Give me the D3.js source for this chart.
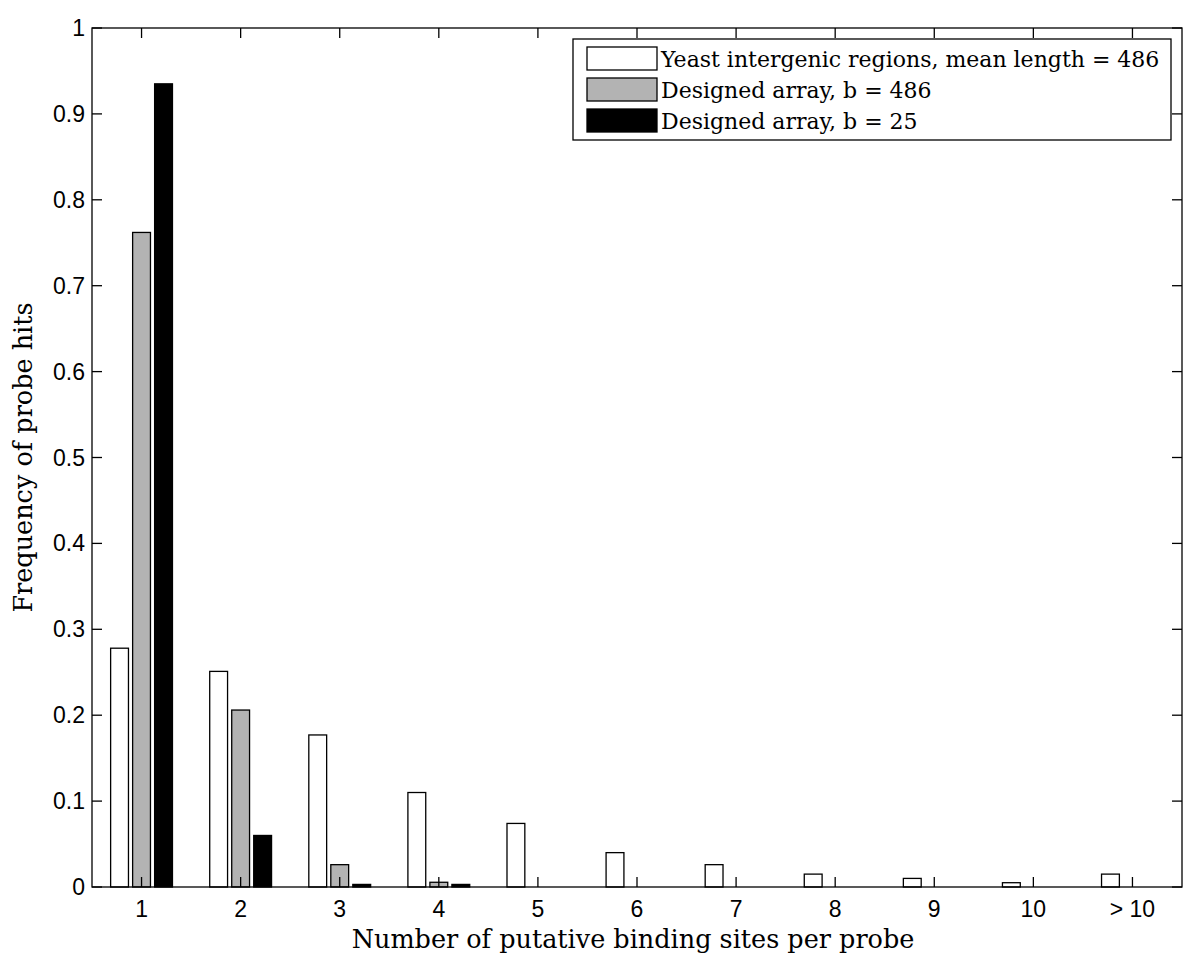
<!DOCTYPE html>
<html>
<head>
<meta charset="utf-8">
<script src="https://cdn.jsdelivr.net/npm/d3@7"></script>
<style>
  body { margin: 0; background: #fff; }
  svg text.tick { font-family: "Liberation Sans", Arial, sans-serif; font-size: 23px; }
  svg text.serif { font-family: "DejaVu Serif", "Liberation Serif", serif; }
</style>
</head>
<body>
<div id="chart"></div>
<script>
var categories = ['1', '2', '3', '4', '5', '6', '7', '8', '9', '10', '> 10'];
var seriesNames = ['Yeast intergenic regions, mean length = 486', 'Designed array, b = 486', 'Designed array, b = 25'];
var seriesColors = ['#ffffff', '#b3b3b3', '#000000'];
var yeast = [0.278, 0.251, 0.177, 0.110, 0.074, 0.040, 0.026, 0.015, 0.010, 0.005, 0.015];
var array486 = [0.762, 0.206, 0.026, 0.0055, 0, 0, 0, 0, 0, 0, 0];
var array25 = [0.935, 0.060, 0.003, 0.003, 0, 0, 0, 0, 0, 0, 0];
var yTicks = [0, 0.1, 0.2, 0.3, 0.4, 0.5, 0.6, 0.7, 0.8, 0.9, 1];

var W = 1200, H = 961,
    mLeft = 92, mRight = 1182, mTop = 28, mBottom = 887,
    tickLen = 10;

var series = [yeast, array486, array25];

var svg = d3.select('#chart').append('svg')
    .attr('width', W)
    .attr('height', H);

var x = d3.scaleLinear().domain([0.5, categories.length + 0.5]).range([mLeft, mRight]);
var y = d3.scaleLinear().domain([0, 1]).range([mBottom, mTop]);

var step = x(2) - x(1),
    barW = step * 0.18,
    offset = step * 0.222;

// bars
series.forEach(function(vals, si) {
    svg.append('g').selectAll('rect')
        .data(vals)
        .enter().append('rect')
        .filter(function(d) { return d > 0; })
        .attr('x', function(d, i) { return x(i + 1) + (si - 1) * offset - barW / 2; })
        .attr('y', function(d) { return y(d); })
        .attr('width', barW)
        .attr('height', function(d) { return mBottom - y(d); })
        .attr('fill', seriesColors[si])
        .attr('stroke', '#000')
        .attr('stroke-width', 1.3);
});

// frame
svg.append('rect')
    .attr('x', mLeft).attr('y', mTop)
    .attr('width', mRight - mLeft).attr('height', mBottom - mTop)
    .attr('fill', 'none').attr('stroke', '#000').attr('stroke-width', 1.3);

// y ticks on both sides
var yt = svg.append('g');
yTicks.forEach(function(t) {
    yt.append('line').attr('x1', mLeft).attr('x2', mLeft + tickLen)
        .attr('y1', y(t)).attr('y2', y(t)).attr('stroke', '#000').attr('stroke-width', 1.3);
    yt.append('line').attr('x1', mRight).attr('x2', mRight - tickLen)
        .attr('y1', y(t)).attr('y2', y(t)).attr('stroke', '#000').attr('stroke-width', 1.3);
    yt.append('text').attr('class', 'tick')
        .attr('x', mLeft - 7).attr('y', y(t) + 8)
        .attr('text-anchor', 'end')
        .text(d3.format('')(t));
});

// x ticks on both sides
var xt = svg.append('g');
categories.forEach(function(c, i) {
    var px = x(i + 1);
    xt.append('line').attr('x1', px).attr('x2', px)
        .attr('y1', mBottom).attr('y2', mBottom - tickLen).attr('stroke', '#000').attr('stroke-width', 1.3);
    xt.append('line').attr('x1', px).attr('x2', px)
        .attr('y1', mTop).attr('y2', mTop + tickLen).attr('stroke', '#000').attr('stroke-width', 1.3);
    xt.append('text').attr('class', 'tick')
        .attr('x', px).attr('y', 917)
        .attr('text-anchor', 'middle')
        .text(c);
});

// axis labels
svg.append('text').attr('class', 'serif')
    .attr('x', (mLeft + mRight) / 2 - 4).attr('y', 948)
    .attr('text-anchor', 'middle')
    .attr('font-size', 25.5)
    .text('Number of putative binding sites per probe');

svg.append('text').attr('class', 'serif')
    .attr('transform', 'translate(32,' + ((mTop + mBottom) / 2) + ') rotate(-90)')
    .attr('text-anchor', 'middle')
    .attr('font-size', 25.5)
    .text('Frequency of probe hits');

// legend
var lg = svg.append('g').attr('transform', 'translate(573,39)');
lg.append('rect')
    .attr('width', 598).attr('height', 101)
    .attr('fill', '#fff').attr('stroke', '#000').attr('stroke-width', 1.3);
seriesNames.forEach(function(name, i) {
    var ry = 8 + i * 31;
    lg.append('rect')
        .attr('x', 14).attr('y', ry)
        .attr('width', 70).attr('height', 23)
        .attr('fill', seriesColors[i]).attr('stroke', '#000').attr('stroke-width', 1.3);
    lg.append('text').attr('class', 'serif')
        .attr('x', 88).attr('y', ry + 20)
        .attr('font-size', 22)
        .text(name);
});
</script>
</body>
</html>
